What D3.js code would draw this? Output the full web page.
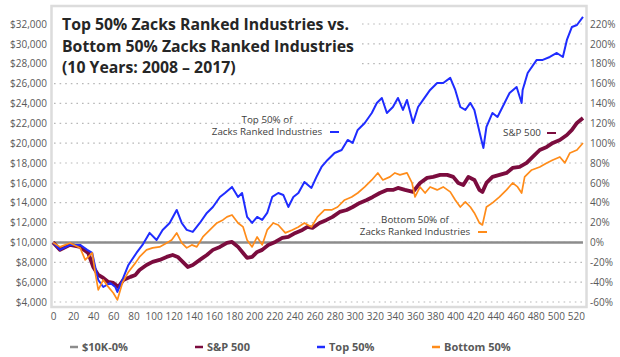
<!DOCTYPE html>
<html><head><meta charset="utf-8">
<script src="https://cdn.jsdelivr.net/npm/d3@7"></script>
<style>
html,body{margin:0;padding:0;background:#fff;}
svg{display:block;font-family:"Open Sans",sans-serif;}
</style></head>
<body><svg id="c" width="620" height="357"></svg>
<script>
// ---- data (week index, dollar value of $10K invested) ----
const titleLines = ["Top 50% Zacks Ranked Industries vs.", "Bottom 50% Zacks Ranked Industries", "(10 Years: 2008 \u2013 2017)"];
const leftTicks = [4000,6000,8000,10000,12000,14000,16000,18000,20000,22000,24000,26000,28000,30000,32000];
const rightTicks = [-60,-40,-20,0,20,40,60,80,100,120,140,160,180,200,220];
const xTicks = d3.range(0, 521, 20);
const seriesNames = ["$10K-0%", "S&P 500", "Top 50%", "Bottom 50%"];

const baseline = [[0,10000],[527,10000]];
const sp500 = [[0,10000],[7,9250],[17,9750],[27,9550],[35,8940],[40,7530],[45,6730],[50,6420],[55,6020],[60,5920],[65,5520],[70,6220],[77,6530],[82,6730],[86,7230],[93,7730],[99,8040],[106,8240],[113,8540],[119,8740],[124,8540],[129,8040],[134,7530],[139,7730],[146,8240],[153,8740],[159,9250],[166,9550],[173,9950],[178,10050],[184,9550],[189,8940],[193,8440],[198,8540],[203,9040],[208,9250],[214,9750],[221,10050],[228,10450],[234,10550],[241,10960],[248,11260],[253,11560],[258,11460],[265,11960],[272,12270],[278,12570],[285,13070],[292,13270],[298,13570],[305,13980],[312,14280],[318,14580],[325,14980],[332,15290],[338,15290],[343,15490],[350,15290],[358,15090],[365,15990],[372,16500],[378,16600],[385,16800],[392,16800],[398,16600],[403,15990],[408,15790],[413,16600],[419,16290],[424,15290],[427,15090],[431,15990],[437,16600],[444,16800],[451,17000],[457,17500],[464,17600],[471,18010],[477,18610],[484,19310],[491,19620],[497,20020],[504,20320],[511,20820],[516,21330],[521,22030],[527,22530]];
const top50 = [[0,10000],[7,9250],[17,9750],[27,9750],[34,9250],[39,8940],[42,7530],[45,6220],[50,5510],[57,5920],[62,5510],[64,5010],[69,6220],[75,7730],[83,8940],[89,9750],[96,10960],[103,10250],[109,11260],[116,11960],[123,13270],[128,11960],[133,11260],[139,11060],[146,11960],[153,12970],[159,13570],[166,14580],[171,14980],[178,15590],[184,14580],[188,14980],[193,12570],[198,11960],[203,12570],[208,12270],[213,12970],[218,14580],[224,14980],[229,14780],[234,13570],[239,14580],[244,14980],[250,16090],[257,15490],[262,16600],[267,17600],[273,18310],[280,19010],[287,19310],[293,20320],[298,20020],[303,21330],[310,22030],[317,23040],[322,24050],[327,24550],[332,23040],[338,23640],[343,24550],[348,23340],[352,24350],[358,22030],[363,23640],[368,24350],[375,25360],[382,26060],[388,26060],[395,26570],[400,25360],[405,23640],[410,23340],[415,24050],[419,23340],[422,22030],[426,20320],[428,19520],[431,21640],[437,23040],[442,22640],[447,23640],[454,25050],[461,25660],[466,24050],[467,25360],[472,27070],[481,28380],[487,28380],[494,28680],[501,29080],[507,28680],[511,30390],[516,31700],[521,31900],[527,32710]];
const bottom50 = [[0,10000],[7,9550],[17,9950],[27,9450],[32,8240],[39,8940],[42,6930],[45,5220],[50,6220],[55,5520],[60,4910],[64,4210],[69,5920],[75,7030],[82,7940],[86,8540],[93,9250],[99,9450],[106,9550],[113,9950],[118,10250],[123,10960],[128,9950],[133,9450],[138,9750],[143,9550],[149,10550],[156,11260],[163,11960],[169,12270],[173,12570],[178,12770],[184,11960],[189,11560],[193,10250],[198,9550],[203,10550],[208,9750],[213,11260],[219,11960],[224,11760],[231,10960],[238,11260],[244,11560],[250,11960],[257,11560],[263,12570],[270,13270],[277,13270],[283,13570],[290,14280],[297,14580],[303,14980],[310,15590],[317,16290],[323,17000],[328,16290],[335,16600],[340,17000],[345,16800],[352,17000],[357,15990],[360,14580],[365,15590],[370,14980],[375,15590],[382,15290],[388,15590],[395,15090],[400,14280],[405,13570],[410,14080],[415,13570],[419,12970],[424,11960],[427,11760],[431,13570],[437,13980],[444,14580],[451,15290],[457,15990],[462,15590],[466,14980],[469,16600],[476,17300],[484,17600],[491,18010],[497,18310],[504,18610],[509,18010],[514,19010],[521,19310],[527,20020]];

// ---- layout ----
const svg = d3.select("#c");
const x = d3.scaleLinear().domain([0, 530]).range([53, 586]);
const y = d3.scaleLinear().domain([4000, 32000]).range([302, 24]);
const yR = d3.scaleLinear().domain([-60, 220]).range([y(4000), y(32000)]);
const labelColor = "#595959";

// frame
svg.append("rect").attr("x", 51.5).attr("y", 6).attr("width", 535).attr("height", 301)
  .attr("fill", "none").attr("stroke", "#dcdcdc").attr("stroke-width", 2.5);

// gridlines
svg.append("g").selectAll("line").data(leftTicks).join("line")
  .attr("x1", 54).attr("x2", 584).attr("y1", d => y(d)).attr("y2", d => y(d))
  .attr("stroke", "#b8b8b8").attr("stroke-width", 1.2).attr("stroke-dasharray", "1.6,4");

// left axis
const gl = svg.append("g").attr("transform", "translate(47,0)")
  .call(d3.axisLeft(y).tickValues(leftTicks).tickSize(0).tickPadding(0).tickFormat(d => "$" + d3.format(",")(d)));
gl.select(".domain").remove();
gl.selectAll("text").attr("fill", labelColor).style("font-size", "10px").style("font-family", "Open Sans");

// right axis
const gr = svg.append("g").attr("transform", "translate(590,0)")
  .call(d3.axisRight(yR).tickValues(rightTicks).tickSize(0).tickPadding(0).tickFormat(d => d + "%"));
gr.select(".domain").remove();
gr.selectAll("text").attr("fill", labelColor).style("font-size", "10px").style("font-family", "Open Sans");

// bottom axis
const gb = svg.append("g").attr("transform", "translate(0,313)")
  .call(d3.axisBottom(x).tickValues(xTicks).tickSize(0).tickPadding(0).tickFormat(d3.format("d")));
gb.select(".domain").remove();
gb.selectAll("text").attr("fill", labelColor).style("font-size", "10px").style("font-family", "Open Sans");

// lines
const line = d3.line().x(d => x(d[0])).y(d => y(d[1]));
const series = [
  {data: baseline, color: "#8c8c8c", w: 2.5},
  {data: sp500, color: "#7b0c3e", w: 3.8},
  {data: top50, color: "#1f2cff", w: 2},
  {data: bottom50, color: "#ff8c1a", w: 1.7}
];
svg.append("g").selectAll("path").data(series).join("path")
  .attr("d", d => line(d.data)).attr("fill", "none")
  .attr("stroke", d => d.color).attr("stroke-width", d => d.w)
  .attr("stroke-linejoin", "round");

// title box
svg.append("rect").attr("x", 54).attr("y", 8).attr("width", 304).attr("height", 68).attr("fill", "#fff");
svg.append("g").selectAll("text").data(titleLines).join("text")
  .attr("x", 62).attr("y", (d, i) => 30 + i * 21.5)
  .attr("fill", "#262626").style("font-size", "15.8px").style("font-weight", "bold").text(d => d);

// annotations
function annot(lines, cx, cy, dashX, dashY, color) {
  const g = svg.append("g");
  g.selectAll("text").data(lines).join("text")
    .attr("x", cx).attr("y", (d, i) => cy + i * 12).attr("text-anchor", "middle")
    .attr("dy", "0.35em").attr("fill", "#404040").style("font-size", "9.8px").text(d => d);
  g.append("line").attr("x1", dashX).attr("x2", dashX + 9).attr("y1", dashY).attr("y2", dashY)
    .attr("stroke", color).attr("stroke-width", 2);
}
annot(["Top 50% of", "Zacks Ranked Industries"], 267, 120, 330, 132, "#1f2cff");
annot(["Bottom 50% of", "Zacks Ranked Industries"], 415, 220, 478, 232, "#ff8c1a");
annot(["S&P 500"], 522, 133, 547, 133, "#7b0c3e");

// legend
const legX = [70, 195, 317, 432];
const lg = svg.append("g").selectAll("g").data(seriesNames).join("g")
  .attr("transform", (d, i) => `translate(${legX[i]},347)`);
lg.append("line").attr("x1", 0).attr("x2", 8).attr("stroke", (d, i) => series[i].color).attr("stroke-width", 2.5);
lg.append("text").attr("x", 12).attr("dy", "0.35em").attr("fill", labelColor)
  .style("font-size", "11px").style("font-weight", "bold").text(d => d);
</script></body></html>
